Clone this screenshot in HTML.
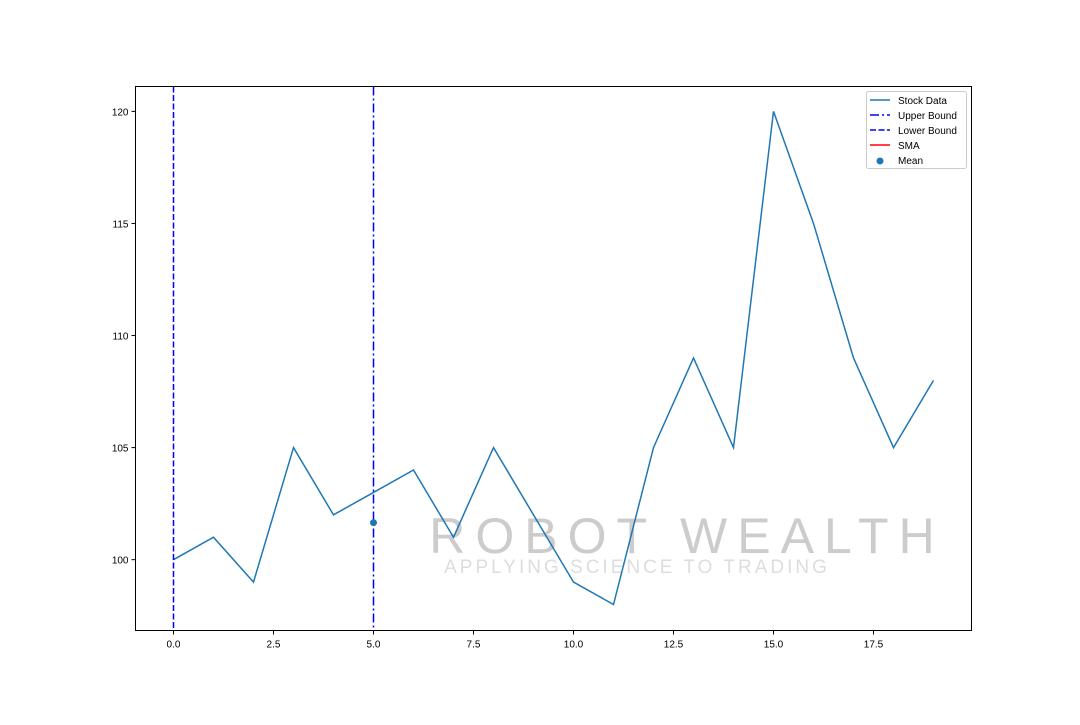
<!DOCTYPE html>
<html><head><meta charset="utf-8"><style>
body{margin:0;background:#fff;font-family:"Liberation Sans","DejaVu Sans",sans-serif;}
</style></head><body>
<svg id="chart" width="1080" height="720" xmlns="http://www.w3.org/2000/svg" font-family="Liberation Sans, DejaVu Sans, sans-serif">
<rect width="1080" height="720" fill="#fff"/>
<g id="wm" opacity="0.85">
<text x="687" y="553" text-anchor="middle" font-size="50" fill="#c4c4c4" letter-spacing="10">ROBOT WEALTH</text>
<text x="637" y="573" text-anchor="middle" font-size="19" fill="#d8d8d8" letter-spacing="3">APPLYING SCIENCE TO TRADING</text>
</g>
<g id="plot"></g>
<rect x="135.5" y="86.5" width="836" height="544" fill="none" stroke="#000" stroke-width="1"/>
</svg>
<script>
const xs=[0,1,2,3,4,5,6,7,8,9,10,11,12,13,14,15,16,17,18,19];
const prices=[100,101,99,105,102,103,104,101,105,102,99,98,105,109,105,120,115,109,105,108];
const meanPoint=[5,101.65];
const upperX=5, lowerX=0;
const xTicks=[0,2.5,5,7.5,10,12.5,15,17.5];
const xTickLabels=["0.0","2.5","5.0","7.5","10.0","12.5","15.0","17.5"];
const yTicks=[100,105,110,115,120];
const yTickLabels=["100","105","110","115","120"];
const X0=135.5,X1=971.5,Y0=630.5,Y1=86.5,xmin=-0.95,xmax=19.95,ymin=96.84,ymax=121.11;
const sx=v=>X0+(v-xmin)/(xmax-xmin)*(X1-X0);
const sy=v=>Y0-(v-ymin)/(ymax-ymin)*(Y0-Y1);
const NS="http://www.w3.org/2000/svg";
const g=document.getElementById('plot');
function mk(t,a){const e=document.createElementNS(NS,t);for(const k in a)e.setAttribute(k,a[k]);g.appendChild(e);return e;}
xTicks.forEach((v,i)=>{
 const l=mk('line',{x1:sx(v),x2:sx(v),y1:Y0,y2:Y0+4,stroke:'#000'});
 
 
 const t=mk('text',{x:sx(v),y:Y0+17,'text-anchor':'middle','font-size':10});t.textContent=xTickLabels[i];
 
 
});
yTicks.forEach((v,i)=>{
 const l=mk('line',{x1:X0-4,x2:X0,y1:sy(v),y2:sy(v),stroke:'#000'});
 
 
 const t=mk('text',{x:X0-7,y:sy(v)+4,'text-anchor':'end','font-size':10});t.textContent=yTickLabels[i];
 
 
});
const p=mk('polyline',{points:xs.map((x,i)=>sx(x)+','+sy(prices[i])).join(' '),fill:'none',stroke:'#1f77b4','stroke-width':1.5});


const ub=mk('line',{x1:sx(upperX),x2:sx(upperX),y1:Y1,y2:Y0,stroke:'#0000ff','stroke-width':1.5,'stroke-dasharray':'9,3,2,3'});


const lb=mk('line',{x1:sx(lowerX),x2:sx(lowerX),y1:Y1,y2:Y0,stroke:'#0000ff','stroke-width':1.5,'stroke-dasharray':'6,2.5'});


const m=mk('circle',{cx:sx(meanPoint[0]),cy:sy(meanPoint[1]),r:3.5,fill:'#1f77b4'});


const lg=mk('rect',{x:866.5,y:91.5,width:100,height:77,fill:'#fff',stroke:'#ccc',rx:2});


const items=[["Stock Data",'#1f77b4',null],["Upper Bound",'#0000ff','9,3,2,3'],["Lower Bound",'#0000ff','6,2.5'],["SMA",'#ff0000',null],["Mean",'#1f77b4','pt']];
items.forEach((it,i)=>{
 const y=100+i*15;
 if(it[2]==='pt'){const c=mk('circle',{cx:880,cy:y+1,r:3.5,fill:it[1]});}
 else{const a={x1:870,x2:890,y1:y,y2:y,stroke:it[1],'stroke-width':1.5};if(it[2])a['stroke-dasharray']=it[2];const l=mk('line',a);}
 const t=mk('text',{x:898,y:y+4,'font-size':10});t.textContent=it[0];
 
 
});
</script>
</body></html>
